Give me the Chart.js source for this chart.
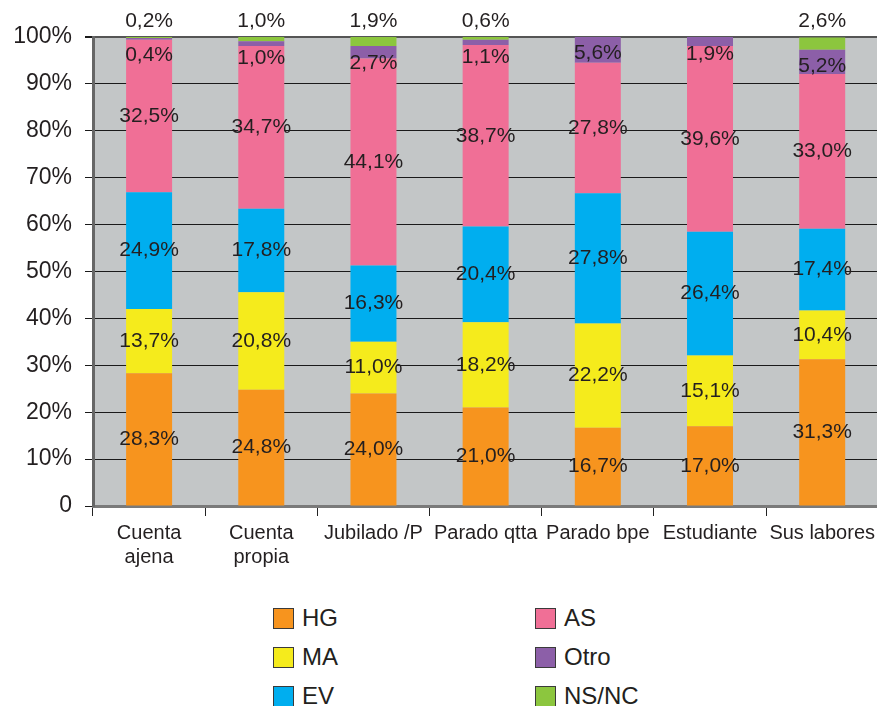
<!DOCTYPE html>
<html>
<head>
<meta charset="utf-8">
<script src="https://cdn.jsdelivr.net/npm/chart.js@4"></script>
<style>
  html, body { margin: 0; padding: 0; background: #fff; overflow: hidden; }
  #wrap { position: relative; width: 877px; height: 706px; overflow: hidden; }
  #chart { position: absolute; left: 0; top: 0; }
  .leg { position: absolute; display: flex; align-items: center; font: 24px "Liberation Sans", Arial, sans-serif; color: #231f20; }
  .leg span.box { width: 19px; height: 19px; border: 1.5px solid #3a3a3a; margin-right: 8px; }
</style>
</head>
<body>
<div id="wrap">
  <canvas id="chart" width="880" height="590"></canvas>
  <div id="legend"></div>
</div>
<script>
// ── Datos ──
const categories = [['Cuenta', 'ajena'], ['Cuenta', 'propia'], 'Jubilado /P', 'Parado qtta', 'Parado bpe', 'Estudiante', 'Sus labores'];
const seriesNames = ['HG', 'MA', 'EV', 'AS', 'Otro', 'NS/NC'];
const seriesColors = ['#f7941e', '#f5eb1c', '#00aeef', '#f06f96', '#8c5fa8', '#8cc63e'];

const hg   = [28.3, 24.8, 24.0, 21.0, 16.7, 17.0, 31.3];
const ma   = [13.7, 20.8, 11.0, 18.2, 22.2, 15.1, 10.4];
const ev   = [24.9, 17.8, 16.3, 20.4, 27.8, 26.4, 17.4];
const as   = [32.5, 34.7, 44.1, 38.7, 27.8, 39.6, 33.0];
const otro = [0.4, 1.0, 2.7, 1.1, 5.6, 1.9, 5.2];
const nsnc = [0.2, 1.0, 1.9, 0.6, 0, 0, 2.6];

const yTicks = [0, 10, 20, 30, 40, 50, 60, 70, 80, 90, 100];

const seriesValues = [hg, ma, ev, as, otro, nsnc];
const FONT = '"Liberation Sans", Arial, sans-serif';
const TEXT = '#231f20';

const fmt = v => v.toFixed(1).replace('.', ',') + '%';

// fondo gris del área de trazado
const plotBg = {
  id: 'plotBg',
  beforeDraw(chart) {
    const { ctx, chartArea: a } = chart;
    ctx.save();
    ctx.fillStyle = '#c3c6c7';
    ctx.fillRect(a.left, a.top, a.right - a.left, a.bottom - a.top);
    ctx.restore();
  }
};

// etiquetas de valor
const segLabels = {
  id: 'segLabels',
  afterDatasetsDraw(chart) {
    const { ctx, chartArea } = chart;
    ctx.save();
    ctx.font = '21px ' + FONT;
    ctx.fillStyle = TEXT;
    ctx.textAlign = 'center';
    ctx.textBaseline = 'middle';
    chart.data.datasets.forEach((ds, di) => {
      const meta = chart.getDatasetMeta(di);
      meta.data.forEach((bar, i) => {
        const v = ds.data[i];
        if (!v) return;
        let y = (bar.y + bar.base) / 2;
        if (ds.label === 'Otro') y = Math.max(y, bar.y + 17);
        if (ds.label === 'NS/NC') y = chartArea.top - 16;
        ctx.fillText(fmt(v), bar.x, y);
      });
    });
    ctx.restore();
  }
};

new Chart(document.getElementById('chart'), {
  type: 'bar',
  data: {
    labels: categories,
    datasets: seriesNames.map((name, i) => ({
      label: name,
      data: seriesValues[i],
      backgroundColor: seriesColors[i],
      borderWidth: 0,
      categoryPercentage: 1,
      barPercentage: 0.41
    }))
  },
  options: {
    responsive: false,
    animation: false,
    devicePixelRatio: 1,
    layout: { padding: { top: 37, left: 0, right: 0, bottom: 0 } },
    plugins: { legend: { display: false }, tooltip: { enabled: false } },
    scales: {
      x: {
        stacked: true,
        afterFit: s => { s.height = 84; },
        grid: { offset: true, drawOnChartArea: false, tickLength: 10, color: '#222', lineWidth: 1 },
        border: { color: '#7a7a7a', width: 3 },
        ticks: { font: { size: 20, family: FONT }, color: TEXT, padding: 5, maxRotation: 0, autoSkip: false }
      },
      y: {
        stacked: true,
        min: 0,
        max: 100,
        afterFit: s => { s.width = 93; },
        afterBuildTicks: s => { s.ticks = yTicks.map(v => ({ value: v })); },
        grid: {
          color: c => c.tick && c.tick.value === 100 ? '#555' : '#1a1a1a',
          lineWidth: c => c.tick && c.tick.value === 100 ? 2 : 1,
          tickLength: 8,
          tickColor: '#1a1a1a'
        },
        border: { color: '#666', width: 3 },
        ticks: {
          font: { size: 23, family: FONT },
          color: TEXT,
          padding: 13,
          callback: v => v === 0 ? '0' : v + '%'
        }
      }
    }
  },
  plugins: [plotBg, segLabels]
});

// leyenda en dos columnas
const legend = document.getElementById('legend');
const legCols = [273, 535];
const legRows = [604, 643, 682];
seriesNames.forEach((name, i) => {
  const el = document.createElement('div');
  el.className = 'leg';
  el.style.left = legCols[Math.floor(i / 3)] + 'px';
  el.style.top = legRows[i % 3] + 'px';
  el.innerHTML = `<span class="box" style="background:${seriesColors[i]}"></span>${name}`;
  legend.appendChild(el);
});
</script>
</body>
</html>
